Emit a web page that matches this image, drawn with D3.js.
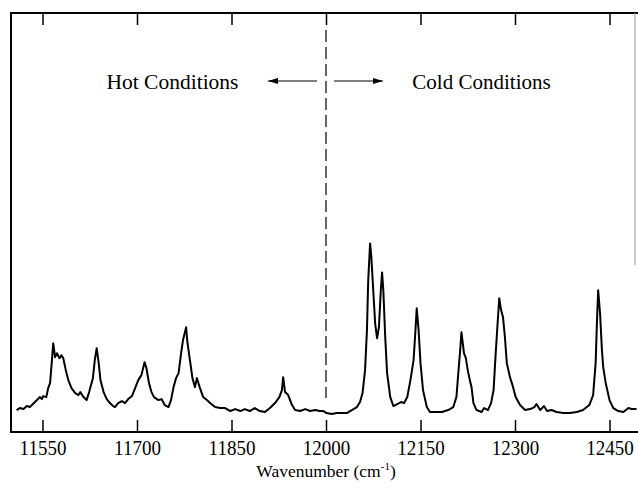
<!DOCTYPE html>
<html>
<head>
<meta charset="utf-8">
<script src="https://cdn.jsdelivr.net/npm/d3@7"></script>
<style>
  body { margin: 0; background: #fff; }
  svg text { font-family: 'Liberation Serif', 'Times New Roman', 'DejaVu Serif', serif !important; fill: #000; }
</style>
</head>
<body>
<main></main>
<script>
// spectrum (wavenumber in cm-1, intensity in arbitrary units)
const wavenumber = [
  11509, 11514, 11520, 11525, 11530, 11538, 11546, 11549, 11551, 11556,
  11559, 11562, 11565, 11567, 11570, 11573, 11577, 11580, 11583, 11587,
  11591, 11596, 11602, 11607, 11610, 11615, 11620, 11624, 11630, 11633,
  11636, 11639, 11642, 11647, 11652, 11657, 11662, 11665, 11670, 11676,
  11681, 11686, 11692, 11697, 11702, 11707, 11712, 11715, 11719, 11723,
  11727, 11734, 11739, 11744, 11750, 11754, 11758, 11762, 11766, 11770,
  11773, 11778, 11780, 11784, 11788, 11792, 11795, 11800, 11805, 11811,
  11816, 11824, 11832, 11840, 11848, 11856, 11864, 11871, 11879, 11887,
  11895, 11903, 11911, 11919, 11926, 11930, 11932, 11935, 11940, 11946,
  11951, 11959, 11967, 11975, 11983, 11990, 11996, 12001, 12009, 12017,
  12025, 12033, 12041, 12049, 12054, 12058, 12062, 12065, 12067, 12070,
  12072, 12075, 12078, 12081, 12084, 12087, 12089, 12091, 12094, 12097,
  12102, 12107, 12113, 12119, 12124, 12129, 12134, 12139, 12142, 12144,
  12147, 12150, 12154, 12160, 12165, 12173, 12184, 12194, 12202, 12207,
  12210, 12213, 12215, 12219, 12222, 12225, 12229, 12231, 12234, 12239,
  12247, 12251, 12257, 12262, 12266, 12269, 12273, 12275, 12278, 12281,
  12284, 12287, 12292, 12296, 12301, 12308, 12316, 12324, 12331, 12334,
  12340, 12346, 12351, 12358, 12366, 12377, 12387, 12398, 12408, 12418,
  12424, 12428, 12430, 12432, 12435, 12438, 12440, 12444, 12450, 12456,
  12464, 12472, 12480, 12485, 12493
];
const intensity = [
  22, 24, 23, 26, 25, 30, 35, 33, 36, 35,
  44, 49, 72, 89, 75, 79, 74, 77, 74, 62,
  52, 44, 39, 37, 40, 35, 32, 40, 54, 72,
  84, 70, 52, 40, 33, 29, 26, 25, 29, 31,
  29, 33, 36, 44, 52, 57, 70, 64, 49, 40,
  35, 32, 33, 27, 25, 32, 45, 54, 59, 79,
  92, 105, 90, 72, 54, 45, 54, 44, 35, 32,
  29, 25, 24, 24, 21, 23, 21, 23, 21, 24,
  21, 20, 24, 29, 35, 42, 55, 40, 37, 27,
  22, 21, 23, 21, 22, 21, 21, 19, 18, 19,
  19, 19, 22, 25, 30, 39, 62, 102, 152, 189,
  175, 142, 109, 94, 105, 142, 160, 142, 95, 59,
  35, 26, 28, 30, 29, 35, 52, 72, 102, 124,
  102, 69, 42, 25, 20, 20, 20, 22, 25, 35,
  59, 82, 100, 79, 74, 62, 50, 45, 29, 22,
  20, 24, 22, 29, 42, 75, 115, 134, 122, 115,
  95, 69, 55, 47, 35, 27, 22, 23, 25, 28,
  22, 26, 21, 22, 20, 19, 19, 20, 22, 27,
  37, 69, 109, 142, 119, 82, 65, 49, 32, 24,
  21, 20, 24, 23, 23
];

const tickValues = [11550, 11700, 11850, 12000, 12150, 12300, 12450];
const divider = 12000;
const xLabel = 'Wavenumber (cm';
const xLabelSup = '-1';
const hotLabel = 'Hot Conditions';
const coldLabel = 'Cold Conditions';

const width = 638;
const height = 489;
const margin = { top: 13, right: -3, bottom: 57, left: 11 };

const x = d3.scaleLinear()
  .domain([11500, 12500])
  .range([margin.left, width - margin.right]);

const y = d3.scaleLinear()
  .domain([0, 420])
  .range([height - margin.bottom, margin.top]);

const svg = d3.select('main')
  .append('svg')
  .attr('width', width)
  .attr('height', height)
  .attr('viewBox', [0, 0, width, height]);

const defs = svg.append('defs');
defs.append('marker')
  .attr('id', 'head')
  .attr('viewBox', '0 0 10 6')
  .attr('refX', 10)
  .attr('refY', 3)
  .attr('markerWidth', 10)
  .attr('markerHeight', 6)
  .attr('markerUnits', 'userSpaceOnUse')
  .attr('orient', 'auto')
  .append('path')
  .attr('d', 'M0,0L10,3L0,6Z')
  .attr('fill', '#000');

const x0 = margin.left;
const yTop = margin.top;
const yBot = height - margin.bottom;

// frame
svg.append('path')
  .attr('d', `M${width},${yTop}H${x0}V${yBot}H${width}`)
  .attr('fill', 'none')
  .attr('stroke', '#000')
  .attr('stroke-width', 2);

svg.append('line')
  .attr('x1', 635).attr('x2', 635)
  .attr('y1', yTop).attr('y2', 265)
  .attr('stroke', '#999')
  .attr('stroke-width', 1);

// bottom axis, ticks pointing in
const bottomAxis = d3.axisBottom(x)
  .tickValues(tickValues)
  .tickFormat(d3.format('d'))
  .tickSizeInner(-12)
  .tickSizeOuter(0)
  .tickPadding(7);

const gb = svg.append('g')
  .attr('transform', `translate(0,${yBot})`)
  .call(bottomAxis);
gb.select('.domain').remove();
gb.selectAll('.tick line').attr('stroke', '#000').attr('stroke-width', 1.5);
gb.selectAll('.tick text')
  .attr('font-size', 19)
  .attr('transform', 'scale(1,1.12)');

// top axis, ticks pointing in, no labels
const topAxis = d3.axisTop(x)
  .tickValues(tickValues)
  .tickFormat('')
  .tickSizeInner(-12)
  .tickSizeOuter(0);

const gt = svg.append('g')
  .attr('transform', `translate(0,${yTop})`)
  .call(topAxis);
gt.select('.domain').remove();
gt.selectAll('.tick line').attr('stroke', '#000').attr('stroke-width', 1.5);

// dashed divider
svg.append('line')
  .attr('x1', x(divider)).attr('x2', x(divider))
  .attr('y1', 30).attr('y2', 398)
  .attr('stroke', '#000')
  .attr('stroke-width', 1.2)
  .attr('stroke-dasharray', '12,5');

// spectrum
const points = wavenumber.map((w, i) => [w, intensity[i]]);
const line = d3.line()
  .x(d => x(d[0]))
  .y(d => y(d[1]));

svg.append('path')
  .datum(points)
  .attr('d', line)
  .attr('fill', 'none')
  .attr('stroke', '#000')
  .attr('stroke-width', 2)
  .attr('stroke-linejoin', 'round');

// annotations
svg.append('text')
  .attr('x', 172.5)
  .attr('y', 89)
  .attr('text-anchor', 'middle')
  .attr('font-size', 21.5)
  .text(hotLabel);

svg.append('text')
  .attr('x', 481.5)
  .attr('y', 89)
  .attr('text-anchor', 'middle')
  .attr('font-size', 21)
  .text(coldLabel);

svg.append('line')
  .attr('x1', 317).attr('x2', 268)
  .attr('y1', 81).attr('y2', 81)
  .attr('stroke', '#000')
  .attr('stroke-width', 1.2)
  .attr('marker-end', 'url(#head)');

svg.append('line')
  .attr('x1', 334).attr('x2', 383)
  .attr('y1', 81).attr('y2', 81)
  .attr('stroke', '#000')
  .attr('stroke-width', 1.2)
  .attr('marker-end', 'url(#head)');

// axis title
const title = svg.append('text')
  .attr('x', x(divider))
  .attr('y', 477)
  .attr('text-anchor', 'middle')
  .attr('font-size', 17.5);
title.append('tspan').text(xLabel);
title.append('tspan').attr('font-size', 11).attr('dy', -7).text(xLabelSup);
title.append('tspan').attr('dy', 7).text(')');
</script>
</body>
</html>
